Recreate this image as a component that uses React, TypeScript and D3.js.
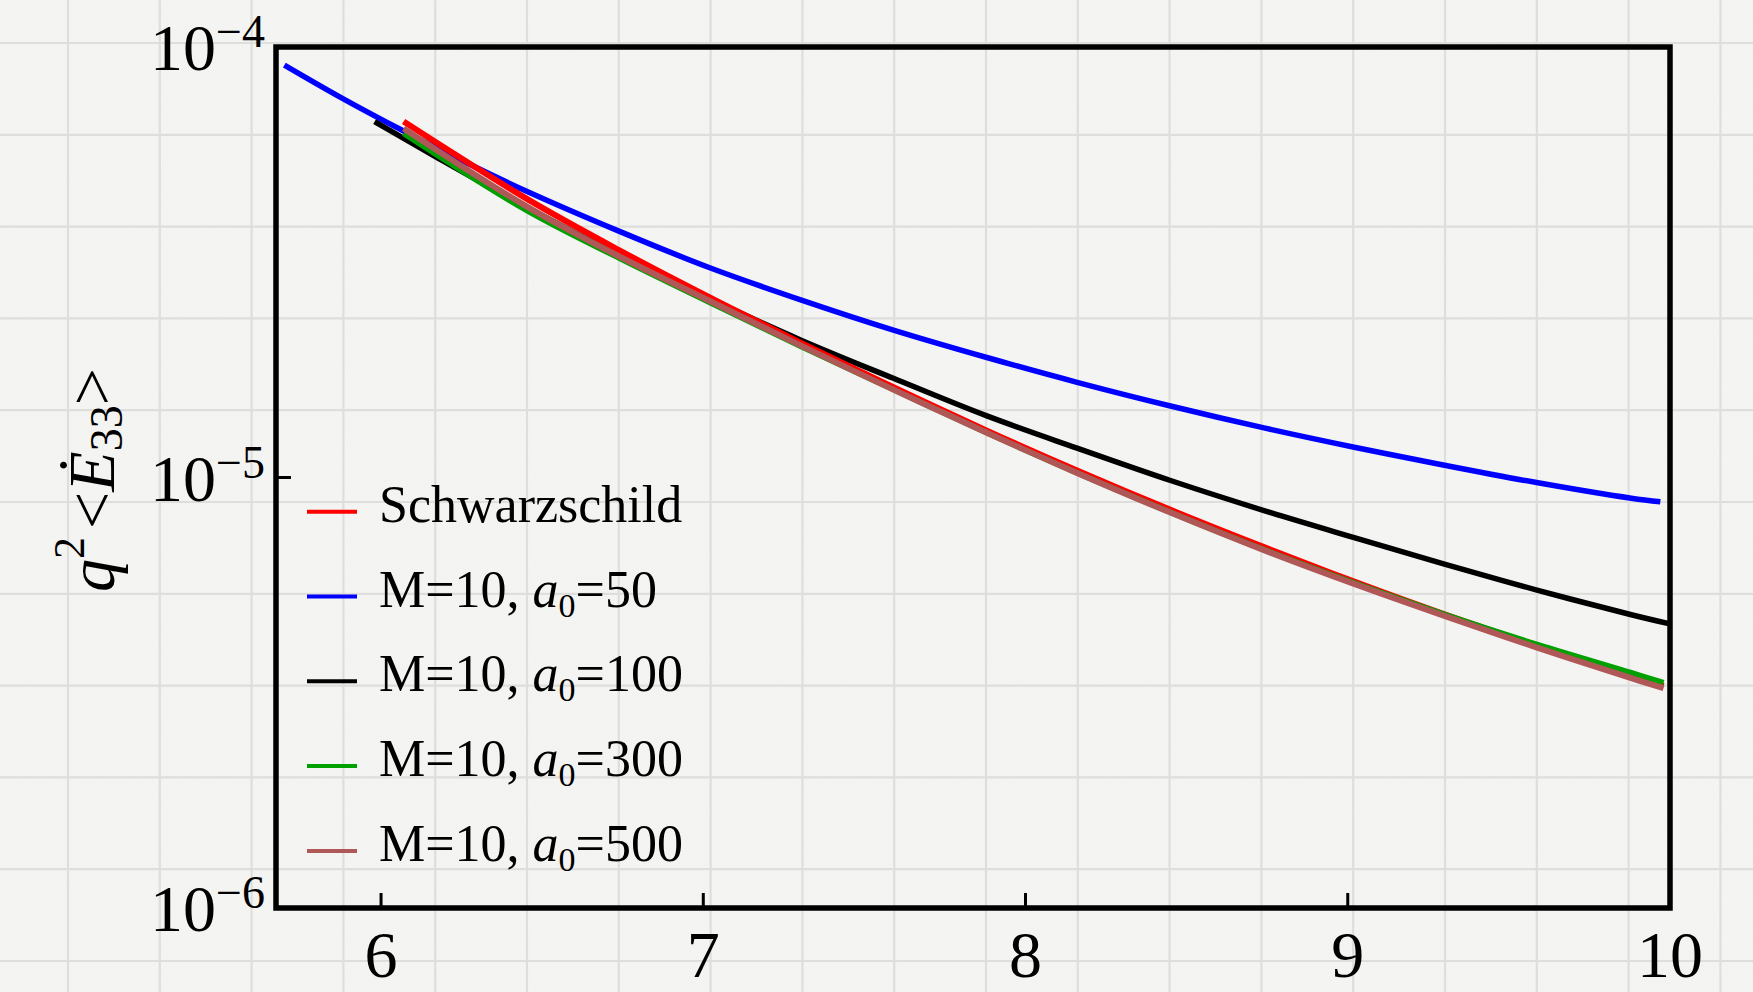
import React, { useEffect } from 'react';
import * as d3 from 'd3';

// ---------- data ----------
const xTicks = [6, 7, 8, 9, 10];
const yTickExponents = [-4, -5, -6];

const schwX = [6.07, 6.45, 6.74, 7.02, 7.30, 7.59, 7.88, 8.16, 8.45, 8.74, 9.02, 9.30, 9.59, 9.88, 9.98];
const schwY = [6.71e-5, 4.45e-5, 3.37e-5, 2.62e-5, 2.06e-5, 1.62e-5, 1.285e-5, 1.038e-5, 8.41e-6, 6.89e-6, 5.73e-6, 4.81e-6, 4.06e-6, 3.46e-6, 3.28e-6];

const a50X = [5.70, 5.88, 6.07, 6.27, 6.45, 6.74, 7.02, 7.30, 7.59, 7.88, 8.16, 8.45, 8.74, 9.02, 9.30, 9.59, 9.88, 9.97];
const a50Y = [9.08e-5, 7.60e-5, 6.38e-5, 5.36e-5, 4.63e-5, 3.73e-5, 3.07e-5, 2.59e-5, 2.20e-5, 1.90e-5, 1.664e-5, 1.466e-5, 1.304e-5, 1.176e-5, 1.068e-5, 9.72e-6, 8.95e-6, 8.78e-6];

const a100X = [5.98, 6.17, 6.45, 6.74, 7.02, 7.30, 7.59, 7.88, 8.16, 8.45, 8.74, 9.02, 9.30, 9.59, 9.88, 10.0];
const a100Y = [6.71e-5, 5.56e-5, 4.25e-5, 3.28e-5, 2.60e-5, 2.09e-5, 1.70e-5, 1.39e-5, 1.17e-5, 9.84e-6, 8.38e-6, 7.25e-6, 6.29e-6, 5.47e-6, 4.80e-6, 4.57e-6];

const a300X = [6.07, 6.45, 6.74, 7.02, 7.30, 7.59, 7.88, 8.16, 8.45, 8.74, 9.02, 9.30, 9.59, 9.88, 9.98];
const a300Y = [6.30e-5, 4.18e-5, 3.23e-5, 2.55e-5, 2.02e-5, 1.60e-5, 1.27e-5, 1.025e-5, 8.30e-6, 6.80e-6, 5.69e-6, 4.81e-6, 4.09e-6, 3.52e-6, 3.34e-6];

const a500X = [6.07, 6.45, 6.74, 7.02, 7.30, 7.59, 7.88, 8.16, 8.45, 8.74, 9.02, 9.30, 9.59, 9.88, 9.98];
const a500Y = [6.47e-5, 4.27e-5, 3.26e-5, 2.57e-5, 2.03e-5, 1.60e-5, 1.27e-5, 1.025e-5, 8.29e-6, 6.78e-6, 5.66e-6, 4.77e-6, 4.02e-6, 3.42e-6, 3.24e-6];

const legendNames = ['Schwarzschild', 'M=10, a0=50', 'M=10, a0=100', 'M=10, a0=300', 'M=10, a0=500'];
const legendA0 = [null, 50, 100, 300, 500];
const seriesColors = ['#ff0000', '#0000ff', '#000000', '#00a000', '#b05858'];

// ---------- layout ----------
const W = 1753;
const H = 992;
const F = { left: 276, right: 1670, top: 47, bottom: 908 };
const FONT = '"Liberation Serif", "Times New Roman", serif';

export default function App() {
  useEffect(() => {
    document.body.style.margin = '0';
    document.body.style.overflow = 'hidden';
  }, []);

  const x = d3.scaleLinear().domain([5.674, 10]).range([F.left, F.right]);
  const y = d3.scaleLog().domain([1e-6, 1e-4]).range([F.bottom, F.top]);

  const line = d3
    .line<[number, number]>()
    .x((d) => x(d[0]))
    .y((d) => y(d[1]))
    .curve(d3.curveCatmullRom.alpha(0.5));

  const zip = (xs: number[], ys: number[]) => xs.map((v, i) => [v, ys[i]] as [number, number]);

  const series = [
    { key: 'a50', data: zip(a50X, a50Y), color: seriesColors[1], w: 5.5 },
    { key: 'a100', data: zip(a100X, a100Y), color: seriesColors[2], w: 5.5 },
    { key: 'schw', data: zip(schwX, schwY), color: seriesColors[0], w: 6 },
    { key: 'a300', data: zip(a300X, a300Y), color: seriesColors[3], w: 5.5 },
    { key: 'a500', data: zip(a500X, a500Y), color: seriesColors[4], w: 6 },
  ];

  const gridStep = 91.8;
  const vGrid = d3.range(-1, 20).map((k) => 68 + k * gridStep);
  const hGrid = d3.range(-1, 12).map((k) => 43 + k * gridStep);

  const legendTop = 511.7;
  const legendStep = 84.8;

  return (
    <svg width={W} height={H} style={{ position: 'absolute', left: 0, top: 0, display: 'block' }} fontFamily={FONT}>
      <defs>
        <filter id="paper" x="0" y="0" width="100%" height="100%">
          <feTurbulence type="fractalNoise" baseFrequency="0.85" numOctaves="2" seed="3" result="n" />
          <feColorMatrix
            in="n"
            type="matrix"
            values="0 0 0 0 0.5  0 0 0 0 0.5  0 0 0 0 0.49  0 0 0 0.05 0"
          />
        </filter>
      </defs>
      {/* paper background */}
      <rect x={0} y={0} width={W} height={H} fill="#f5f5f3" />
      <rect x={0} y={0} width={W} height={H} filter="url(#paper)" />
      <g stroke="#dededc" strokeWidth={2.2}>
        {vGrid.map((gx, i) => (
          <line key={'v' + i} x1={gx} x2={gx} y1={0} y2={H} />
        ))}
        {hGrid.map((gy, i) => (
          <line key={'h' + i} x1={0} x2={W} y1={gy} y2={gy} />
        ))}
      </g>

      {/* curves */}
      <g fill="none" strokeLinejoin="round" strokeLinecap="butt">
        {series.map((s) => (
          <path key={s.key} d={line(s.data) || ''} stroke={s.color} strokeWidth={s.w} />
        ))}
      </g>

      {/* frame */}
      <rect
        x={F.left}
        y={F.top}
        width={F.right - F.left}
        height={F.bottom - F.top}
        fill="none"
        stroke="#000"
        strokeWidth={5.5}
      />

      {/* x ticks */}
      {xTicks.map((t) => (
        <g key={'xt' + t}>
          <line x1={x(t)} x2={x(t)} y1={F.bottom} y2={F.bottom - 15} stroke="#000" strokeWidth={3} />
          <text x={x(t)} y={977} textAnchor="middle" fontSize={66} fill="#000">
            {t}
          </text>
        </g>
      ))}

      {/* y ticks */}
      {yTickExponents.map((e) => {
        const v = Math.pow(10, e);
        return (
          <g key={'yt' + e}>
            <line x1={F.left} x2={F.left + 15} y1={y(v)} y2={y(v)} stroke="#000" strokeWidth={3} />
            <text x={265} y={y(v) + 23} textAnchor="end" fontSize={66} fill="#000">
              <tspan>10</tspan>
              <tspan fontSize={46} dy={-23}>{'\u2212' + Math.abs(e)}</tspan>
            </text>
          </g>
        );
      })}

      {/* y axis title */}
      <text transform={`translate(114,480) rotate(-90)`} textAnchor="middle" fontSize={66} fill="#000">
        <tspan fontStyle="italic">q</tspan>
        <tspan fontSize={44} dy={-30}>2</tspan>
        <tspan dy={30} dx={8}>{'<'}</tspan>
        <tspan fontStyle="italic">{'\u0116'}</tspan>
        <tspan fontSize={46} dy={8}>33</tspan>
        <tspan dy={-8}>{'>'}</tspan>
      </text>

      {/* legend */}
      {legendNames.map((name, i) => {
        const ly = legendTop + i * legendStep;
        const a0 = legendA0[i];
        return (
          <g key={'lg' + i}>
            <line x1={307} x2={357} y1={ly} y2={ly} stroke={seriesColors[i]} strokeWidth={4} />
            <text x={379} y={ly + 10} fontSize={52} fill="#000">
              {a0 === null ? (
                name
              ) : (
                <>
                  <tspan>{'M=10, '}</tspan>
                  <tspan fontStyle="italic">a</tspan>
                  <tspan fontSize={34} dy={10}>0</tspan>
                  <tspan dy={-10}>{'=' + a0}</tspan>
                </>
              )}
            </text>
          </g>
        );
      })}
    </svg>
  );
}
